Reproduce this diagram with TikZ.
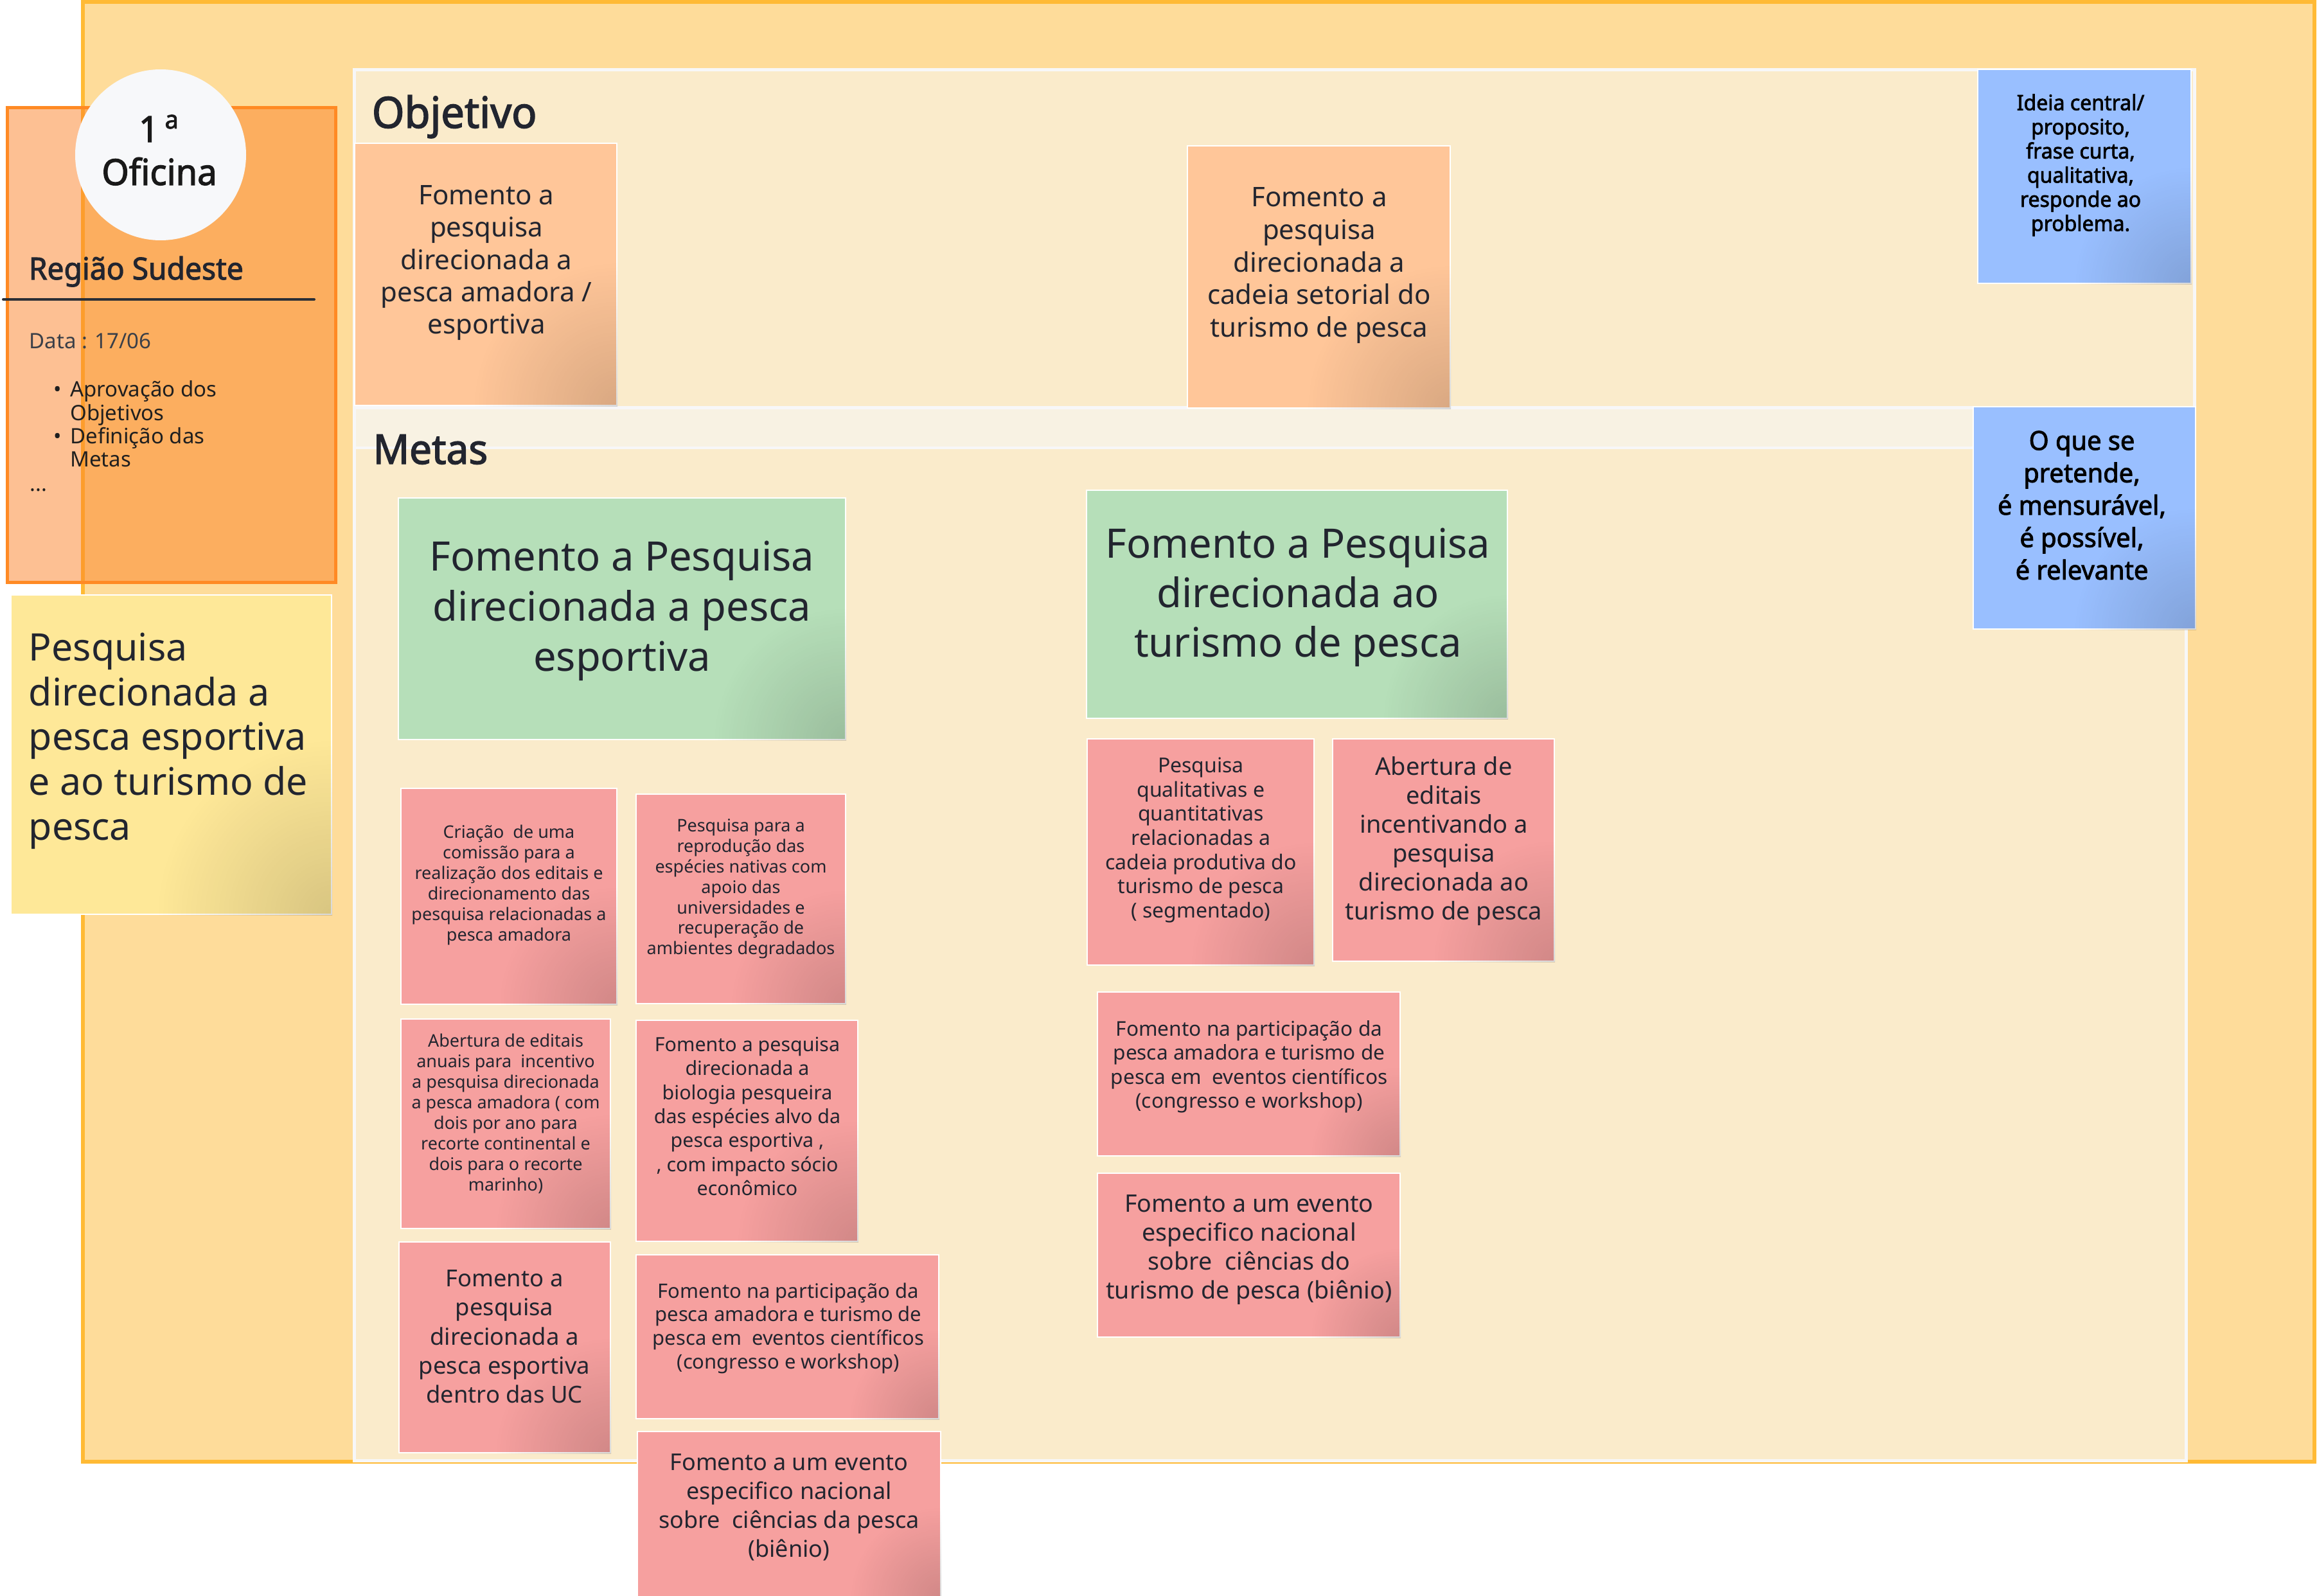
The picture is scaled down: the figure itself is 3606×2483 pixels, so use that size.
\documentclass[tikz,border=0pt]{standalone}
\usepackage{fontspec}
\setmainfont{Noto Sans}
\newfontfamily\semib{Noto Sans}[FakeBold=2.2, FakeStretch=0.97]
\usetikzlibrary{fadings}
\definecolor{ink}{HTML}{22252F}
\definecolor{ink2}{HTML}{2B2F36}
\definecolor{frameF}{HTML}{FEDC9A}
\definecolor{frameD}{HTML}{FFBA35}
\definecolor{cream}{HTML}{FAEBCB}
\definecolor{bandC}{HTML}{F8F2E3}
\definecolor{panelD}{HTML}{F7F7F8}
\definecolor{cardF}{RGB}{251,128,35}
\definecolor{cardD}{HTML}{FF8A24}
\definecolor{circC}{HTML}{F7F8FA}
\definecolor{peachC}{HTML}{FFC699}
\definecolor{greenC}{HTML}{B6DFB9}
\definecolor{blueC}{HTML}{99BFFF}
\definecolor{pinkC}{HTML}{F6A09F}
\definecolor{yellowC}{HTML}{FEE898}
\definecolor{dataC}{HTML}{3A3F48}
\tikzfading[name=cornerfade, inner color=transparent!0, outer color=transparent!100]
\newcommand\fsz[2]{\fontsize{#1}{#2}\selectfont}
% sticky note: name, style, x1, y1, x2, y2
\newcommand\stk[6]{%
  \node[#2, minimum width={(#5-#3)*0.25pt}, minimum height={(#6-#4)*0.25pt}] (#1) at ({(#3+#5)/2},{(#4+#6)/2}) {};
  \begin{scope}
    \clip (#1.south west) rectangle (#1.north east);
    \fill[black, opacity=0.15, path fading=cornerfade] (#1.south east) circle ({0.55*min(#5-#3,#6-#4)});
  \end{scope}}
\begin{document}
\begin{tikzpicture}[x=0.25pt, y=-0.25pt,
  txt/.style={text=ink, inner sep=0pt, align=center},
  stkbox/.style={rectangle, draw=white, line width=0.5pt, inner sep=0pt},
  peach/.style={stkbox, fill=peachC},
  greenS/.style={stkbox, fill=greenC},
  blueS/.style={stkbox, fill=blueC},
  pinkS/.style={stkbox, fill=pinkC},
  yellowS/.style={stkbox, fill=yellowC},
  panel/.style={fill=cream, draw=panelD, line width=1.25pt},
  head/.style={text=ink, inner sep=0pt, anchor=base west, font=\semib\fsz{16.75}{20}},
]
\useasboundingbox (0,0) rectangle (3606,2483);
\fill[white] (0,0) rectangle (3606,2483);
% outer frame
\draw[fill=frameF, draw=frameD, line width=1.5pt] (129,3) rectangle (3602,2275);
% panels
\draw[panel] (551,109) rectangle (3415,634);
\draw[panel] (551,634) rectangle (3402,2273);
\fill[bandC] (554,637) rectangle (3399,696);
\draw[panelD, line width=1pt] (553,697) -- (3400,697);
\node[head] (objetivo) at (578,199) {Objetivo};
\node[head, font=\semib\fsz{16}{19}] (metas) at (580,722) {Metas};

% left card
\draw[fill=cardF, fill opacity=0.49, draw=cardD, line width=1.25pt] (11,168) rectangle (522,906);
\node[circle, fill=circC, minimum size=66.5pt, inner sep=0pt] (circ) at (250,241) {};
\node[txt, text=black!90, font=\semib\fsz{14}{16.75}] (oficina) at (248,241) {\strut 1\,\textsuperscript{a}\\Oficina\strut};
\node[txt, anchor=base west, font=\semib\fsz{11.9}{14}] (regiao) at (44,435) {Região Sudeste};
\coordinate (ulA) at (5,466);
\coordinate (ulB) at (489,466);
\draw[ink2, line width=1pt, line cap=round] (ulA) -- (ulB);
\node[txt, text=dataC, anchor=base west, font=\fsz{8.25}{9.1}] (data) at (45,542) {Data : 17/06};
\node[txt, text=black!88, anchor=west, align=left, font=\fsz{8.25}{9.1}] (itens) at (83,665)
  {\strut\makebox[6.4pt][l]{•}Aprovação dos\\\hspace*{6.4pt}Objetivos\\\makebox[6.4pt][l]{•}Definição das\\\hspace*{6.4pt}Metas\strut};
\node[txt, text=black!88, anchor=base west, font=\fsz{8.25}{9.1}] (dots) at (46,764) {...};

% yellow sticky
\stk{yel}{yellowS}{17}{926}{516}{1423}
\node[txt, anchor=west, align=left, font=\fsz{14.75}{17.4}] (yelt) at (44,1154)
  {\strut Pesquisa\\direcionada a\\pesca esportiva\\e ao turismo de\\pesca\strut};

% Objetivo stickies
\stk{o1}{peach}{552}{223}{960}{631}
\node[txt, font=\fsz{10.5}{12.6}] (o1t) at (757,409)
  {\strut Fomento a\\pesquisa\\direcionada a\\pesca amadora /\\esportiva\strut};
\stk{o2}{peach}{1848}{227}{2257}{635}
\node[txt, font=\fsz{10.5}{12.68}] (o2t) at (2053,413)
  {\strut Fomento a\\pesquisa\\direcionada a\\cadeia setorial do\\turismo de pesca\strut};

% blue notes
\stk{b1}{blueS}{3078}{108}{3410}{441}
\node[txt, text=black, font=\semib\fsz{8.25}{9.4}] (b1t) at (3238,258)
  {\strut Ideia central/\\proposito,\\frase curta,\\qualitativa,\\responde ao\\problema.\strut};
\stk{b2}{blueS}{3071}{633}{3417}{979}
\node[txt, text=black, font=\semib\fsz{10.25}{12.6}] (b2t) at (3240,791)
  {\strut O que se\\pretende,\\é mensurável,\\é possível,\\é relevante\strut};

% green goals
\stk{g1}{greenS}{620}{775}{1316}{1151}
\node[txt, font=\fsz{15.8}{19.4}] (g1t) at (968,951)
  {\strut Fomento a Pesquisa\\direcionada a pesca\\esportiva\strut};
\stk{g2}{greenS}{1691}{763}{2346}{1118}
\node[txt, font=\fsz{15.8}{19.25}] (g2t) at (2020,930)
  {\strut Fomento a Pesquisa\\direcionada ao\\turismo de pesca\strut};

% pink notes, left group
\stk{p1}{pinkS}{624}{1227}{960}{1563}
\node[txt, font=\fsz{6.75}{8}] (p1t) at (792,1378)
  {\strut Criação~ de uma\\comissão para a\\realização dos editais e\\direcionamento das\\pesquisa relacionadas a\\pesca amadora\strut};
\stk{p2}{pinkS}{990}{1236}{1316}{1562}
\node[txt, font=\fsz{6.75}{7.95}] (p2t) at (1153,1384)
  {\strut Pesquisa para a\\reprodução das\\espécies nativas com\\apoio das\\universidades e\\recuperação de\\ambientes degradados\strut};
\stk{p3}{pinkS}{624}{1586}{950}{1912}
\node[txt, font=\fsz{6.75}{8}] (p3t) at (787,1735)
  {\strut Abertura de editais\\anuais para~ incentivo\\a pesquisa direcionada\\a pesca amadora ( com\\dois por ano para\\recorte continental e\\dois para o recorte\\marinho)\strut};
\stk{p4}{pinkS}{990}{1588}{1335}{1932}
\node[txt, font=\fsz{7.6}{9.35}] (p4t) at (1163,1741)
  {\strut Fomento a pesquisa\\direcionada a\\biologia pesqueira\\das espécies alvo da\\pesca esportiva ,\\, com impacto sócio\\econômico\strut};
\stk{p5}{pinkS}{621}{1933}{950}{2261}
\node[txt, font=\fsz{9.1}{11.3}] (p5t) at (785,2084)
  {\strut Fomento a\\pesquisa\\direcionada a\\pesca esportiva\\dentro das UC\strut};
\stk{p6}{pinkS}{990}{1953}{1461}{2208}
\node[txt, font=\fsz{7.75}{9.2}] (p6t) at (1227,2068)
  {\strut Fomento na participação da\\pesca amadora e turismo de\\pesca em~ eventos científicos\\(congresso e workshop)\strut};
\stk{p7}{pinkS}{992}{2228}{1464}{2486}
\node[txt, font=\fsz{9}{11.3}] (p7t) at (1228,2347)
  {\strut Fomento a um evento\\especifico nacional\\sobre~ ciências da pesca\\(biênio)\strut};

% pink notes, right group
\stk{r1}{pinkS}{1692}{1150}{2045}{1502}
\node[txt, font=\fsz{8}{9.4}] (r1t) at (1869,1308)
  {\strut Pesquisa\\qualitativas e\\quantitativas\\relacionadas a\\cadeia produtiva do\\turismo de pesca\\( segmentado)\strut};
\stk{r2}{pinkS}{2074}{1150}{2419}{1496}
\node[txt, font=\fsz{9.5}{11.25}] (r2t) at (2247,1310)
  {\strut Abertura de\\editais\\incentivando a\\pesquisa\\direcionada ao\\turismo de pesca\strut};
\stk{r3}{pinkS}{1708}{1544}{2179}{1799}
\node[txt, font=\fsz{7.9}{9.3}] (r3t) at (1944,1661)
  {\strut Fomento na participação da\\pesca amadora e turismo de\\pesca em~ eventos científicos\\(congresso e workshop)\strut};
\stk{r4}{pinkS}{1708}{1826}{2179}{2081}
\node[txt, font=\fsz{9.4}{11.3}] (r4t) at (1944,1945)
  {\strut Fomento a um evento\\especifico nacional\\sobre~ ciências do\\turismo de pesca (biênio)\strut};
\end{tikzpicture}
\end{document}
